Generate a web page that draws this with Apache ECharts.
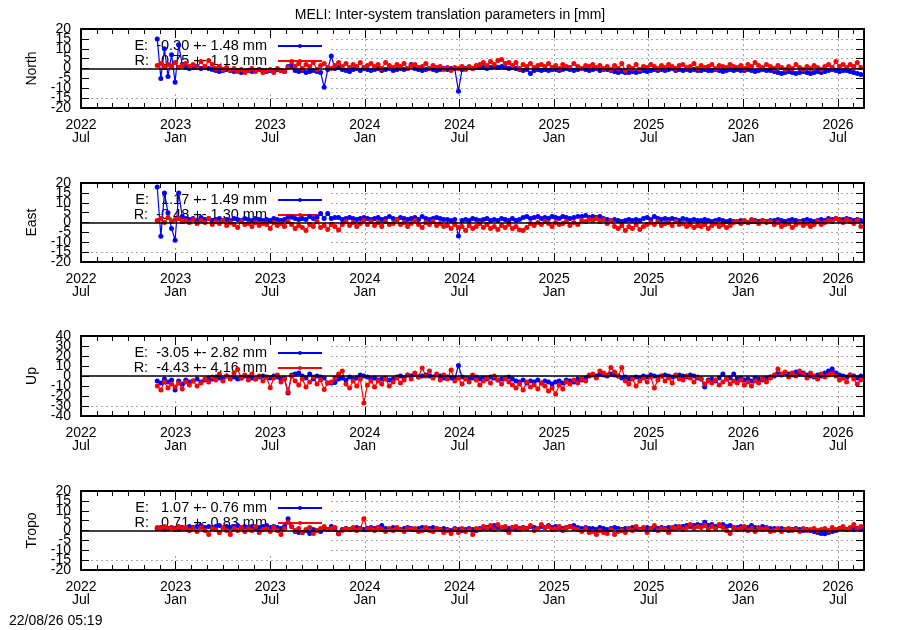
<!DOCTYPE html>
<html>
<head>
<meta charset="utf-8">
<script src="https://cdn.jsdelivr.net/npm/echarts@6/dist/echarts.min.js"></script>
<style>
  html, body { margin: 0; padding: 0; background: #fff; }
  #main { width: 900px; height: 630px; }
</style>
</head>
<body>
<div id="main"></div>
<script>
var FONT = 'Liberation Sans, Arial, sans-serif';

// one value per week, first sample 2022-11-26
var startDay = Date.UTC(2022, 10, 26);
var stepDays = 7;
var xMax = 49.65; // months after 2022-07-01 (~2026-08-20)

var panelNames = ['North', 'East', 'Up', 'Tropo'];
var yMin = [-20, -20, -40, -20];
var yMax = [20, 20, 40, 20];
var yStep = [5, 5, 10, 5];
var legendE = ['E:  -0.30 +- 1.48 mm', 'E:   1.17 +- 1.49 mm', 'E:  -3.05 +- 2.82 mm', 'E:   1.07 +- 0.76 mm'];
var legendR = ['R:   0.75 +- 1.19 mm', 'R:  -0.48 +- 1.30 mm', 'R:  -4.43 +- 4.16 mm', 'R:   0.71 +- 0.83 mm'];

var northE = [15, -5, 10, -4, 7, -7, 12, 2, 0.5, 0,
  0.5, 1, 0, 0.5, 0, -0.5, -1, -1.5, -1, -0.5,
  -1, -1.5, -1, -2, -1.5, -1, -1.5, -1, -0.5, -1,
  -1.5, -1, -1, -0.5, -1, -1.5, 1, 1, -1, -1.5,
  -1, -2, -1.5, -1, -1.5, -2, -9.5, -0.5, 6.3, 0,
  0.5, -0.5, -1, -1.5, -0.5, 0, -1, 0, -0.5, -1,
  -0.5, 0, -1, -0.5, 0, -1, -0.5, 0, -0.5, 0,
  2, 0, -0.5, -1, -0.5, 0, -0.5, -1, -0.5, 0,
  -0.5, 0, 0, -11.5, -0.5, 0, 0.5, 0, 0.5, 0.5,
  0.5, 0, 0.5, 1, 0.5, 1, 0.5, 0, 0.5, 0,
  -0.5, -1, -0.5, -2.5, -1, -0.5, -1, -0.5, -1, -0.5,
  -0.5, -1, -0.5, 0, -0.5, -1, -0.5, 0, -0.5, -1,
  -0.5, 0, -1, -0.5, -0.5, -1, -1.5, -2, -1.5, -2,
  -2, -1.5, -2, -1.5, -1, -1.5, -1, -0.5, -1, -0.5,
  -1, -0.5, 0, -1, -0.5, -1, -0.5, -1, -0.5, -1,
  -1, -0.5, -1, -1, -0.5, -1, -1.5, -1, -0.5, -1,
  -0.5, -1, -1, -0.5, -1, -1.5, -1, -0.5, -1, -1,
  -1.5, -2, -2.5, -2, -1.5, -2, -2.5, -2, -1.5, -2,
  -2.5, -2, -1.5, -2, -1.5, -1, -0.5, -1, -1.5, -1,
  -1, -1.5, -2, -2.5, -3];
var northR = [1.5, 2.5, 0.5, 2, 1, 3, 0.5, 1.5, 2.5, 1,
  2, 0.5, 3.5, 1, 4, 2, 0, 1, -0.5, 0.5,
  -1, 0, -1.5, -0.5, -2, -1, 0, -1.5, -0.5, -2,
  -1, -0.5, -2, 0, -1, -1.5, 0.5, 3.5, 1, 2.5,
  0, 2, 1, 3, -0.5, 1.5, 2.5, 0.5, 0, 1.5,
  3, 1, 2.5, 0.5, 2, 1, 3, 0.5, 1.5, 2.5,
  1, 2, 0, 3, 1.5, 0.5, 2, 1, 2.5, 0,
  1.5, 2, 0.5, 1, 2.5, 0, 1.5, 0.5, 1, -0.5,
  0.5, -1, 0.5, 0, 1, -0.5, 1, 0, 1.5, 2,
  3, 1.5, 3.5, 2, 4, 4.6, 2.5, 3, 1.5, 3,
  0, 2, 1, 2.5, 0.5, 1.5, 2, 1, 2.5, 0.5,
  1.5, 0, 2, 1, 0.5, 2.5, 1, 0, 1.5, 1,
  2, 0.5, 1.5, 0, 1, -0.5, 1.5, 0, 2.5, -1,
  1, 0, 2, -0.5, 1, 0.5, 2, 1, 0, 1.5,
  0.5, 2, 1, 0, 1.5, 2, 0.5, 1, 2.5, 0,
  1.5, 0.5, 1, 2, 0, 1.5, 1, 0.5, 2, 1,
  0.5, 1.5, 0, 2, 1, 3, 1.5, 0.5, 2, 1,
  0, 1.5, 0.5, -0.5, 1, 0, 2, 0.5, -0.5, 1,
  0, 1.5, 0.5, -0.5, 1, 2, 0.5, 3.5, 1, 2,
  0.5, 2, 1, 3, 0.5];

var eastE = [18, -7, 15, 5, -3, -9, 15, 3, 2, 1.5,
  2, 1, 2.5, 1.5, 2, 1, 1.5, 2, 1, 1.5,
  1, 2, 1.5, 1, 2, 1.5, 1, 2, 1.5, 1,
  1.5, 1, 2, 1.5, 1, 1.5, 2.6, 2.6, 2, 1.5,
  2, 1.5, 3, 2, 2.5, 4.5, 2, 4.6, 2, 2.5,
  2.5, 1.5, 2, 2.5, 2, 1.5, 2, 2.5, 2, 1.5,
  2, 2.5, 1.5, 2, 3, 2, 1.5, 2.5, 2, 1.5,
  2, 2.5, 1.5, 3, 2, 1.5, 2, 2.5, 2, 1.5,
  1.5, 1, 1.5, -6.8, 1, 1.5, 1, 2, 1.5, 1,
  1.5, 2, 1, 1.5, 1, 2, 1.5, 1, 2, 1,
  1.5, 2.5, 3, 2, 2.5, 3, 2, 2.5, 2, 3,
  2.5, 2, 3, 2.5, 2, 2.5, 3, 3, 3.5, 2.5,
  3, 2.5, 3, 2, 1.5, 1, 1.5, 1, 0.5, 1,
  1.5, 1, 1.5, 1, 2, 2.5, 1.5, 3, 2, 1.5,
  2, 1.5, 2, 1.5, 1, 2, 1.5, 1, 1.5, 1,
  1, 1.5, 1, 0.5, 1, 1.5, 1, 0.5, 1, 0.5,
  0.5, 1, 0.5, 0, 0.5, 1, 0.5, 1, 0.5, 1,
  1, 1.5, 1, 0.5, 1, 1.5, 1, 0.5, 1, 1.5,
  1, 0.5, 1, 1.5, 1, 2, 1.5, 2, 1.5, 1.5,
  2, 1.5, 1, 1.5, 1];
var eastR = [1, 2, 0, 2.5, 0.5, 1.5, 2, 0.5, 1, 0,
  1.5, -0.5, 1, 0, 2, -1, 0.5, -0.5, 1, -1.5,
  0, -1, -2.5, 0.5, -1, -0.5, -2, 0, -1.5, -0.5,
  -1, -3, 0, -1.5, -0.5, -2, 0.5, -1, -3, -1.5,
  -2.5, -4, -1, -2, 0.5, -2.5, -1.5, -3.5, -1, -2,
  -3.8, -1, 0.5, -1.5, 0, -2, -0.5, 1, -1, 0.5,
  -1.5, 0, -2, 0.5, -1, -0.5, 1.5, -1, 0, -2,
  -0.5, 1, -1, -2.5, 0, -1, 0.5, -1.5, -0.5, -2,
  -1.5, -3, -1, -2.5, -2, -4, -1.5, -3, -2, -0.5,
  -2.5, -1, -3, -2, -3.5, -1.5, -2.5, -1, -3, -2,
  -3.8, -4, -2.5, -0.5, -1.5, 0, -1, 0.5, -0.5, -2,
  0, -1, -0.5, 0.5, -1.5, 0, -1, 1, 0.5, 1.5,
  1, 2, 0.5, 1.5, -0.5, 1, -2, -3, -1.5, -4,
  -2, -3, -1, -3.5, -2, -1, 0, -1, 0.5, -1.5,
  -0.5, 0, -1.5, 0.5, -1, -0.5, -2, -1, -2.5, -1.5,
  -2, -1, -3, -1.5, -0.5, -2, -1, -2.5, -1.5, 0,
  0.5, -0.5, 1, 0, 1.5, 0.5, -0.5, 1, 0, 0.5,
  -1, 0, -2, -1, -0.5, -2.5, -1, 0, -1.5, -0.5,
  -2, -1, 0.5, -1, 0, 1, 0.5, 2, 1, 0,
  1.5, 0.5, -0.5, 1, -2];

var upE = [-5, -7, -3, -6, -4, -14, -5, -8, -4, -6,
  -5, -3, -6, -4, -2, -3, -1, -2, -3, 0,
  -2, -1, -3, -2, 0, -1, -2, -3, -1, 0,
  -1, -2, 0, -1, -3, -2, -17, 1, 2, 3,
  0, -2, 2, -3, 0, -1, -2, -7, -7, -6.5,
  -3, -2, -4, -1, -3, -2, 1, 0, -1, -3,
  -2, -4, -3, -2, -4, -3, -1, 0, -2, 1,
  0, 2, -1, 0, 1, 0, -1, 1, 0, -2,
  -1, -2, -3, 10.5, -1, -2, -3, -2, -1, -3,
  -2, -3, -1, -2, -4, -3, -2, -1, -3, -5,
  -6, -4, -7, -5, -6, -4, -7, -5, -6, -8,
  -6, -5, -7, -4, -5, -6, -3, -4, -2, 0,
  1, 0, 2, 1, 0, 2, 1, 0, -2, -1,
  -3, -2, -1, -2, 0, -1, 1, 0, -1, 0,
  1, 0, -1, 0, 1, 0, -1, 1, 0, -2,
  -3, -11, -4, -3, -5, -2, 2, -3, -2, 2,
  -3, -2, -4, -3, -5, -2, -3, -4, -2, -1,
  0, 2, 1, 3, 2, 1, 4, 2, 3, 1,
  0, -1, 1, 0, 3, 5, 7, 3, 1, 0,
  -1, 1, 0, -2, 0];
var upR = [-10, -14, -6, -12, -8, -11, -7, -13, -6, -9,
  -5, -10, -7, -3, -6, -1, -4, 2, -5, 0,
  -3, 3, 6.7, -2, 1, -4, 2, -3, 0, -5,
  -1, -11.7, -2, 1, -6, -3, -16, 0, -5, -9,
  -3, -11, -6, -1, -8, -4, -13.5, -7, -6, -2,
  2, 5, -8, -12, -5, -10, -3, -27, -9, -5,
  -11, -5, -8, -3, -10, -6, -2, -7, -4, 1,
  -3, 3, -1, 8, 0, 5, -2, 2, -4, 1,
  -3, 6, -5, -2, -8, -3, -6, 1, -4, -9,
  -5, -2, -7, 0, -4, -8, -3, -6, -9, -12,
  -8, -14, -6, -11, -9, -13, -7, -10, -15, -12,
  -18, -9, -13, -6, -8, -4, -7, -3, -5, 1,
  2, -2, 5, 3, 1, 8.4, 4, 0, 8.4, -5,
  -8, -3, -10, -5, -2, -6, -1, -12, -4, 0,
  -5, -2, -7, 1, -3, -4, 0, -2, -6, -1,
  -3, -8, -5, -7, -4, -9, -6, -3, -8, -5,
  -7, -4, -9, -6, -10, -5, -7, -3, -6, -2,
  1, 7, 2, 4, -1, 3, 0, 5, 2, -2,
  3, 0, -3, 2, -1, 1, 3, 0, -4, -2,
  -6, 1, -3, -8, -4];

var tropoE = [1, 1.5, 0.5, 1, 1.5, 1, 0.5, 1.5, 1, 2,
  1.5, 2, 2.5, 1.5, 2, 1.5, 2, 2.5, 1.5, 2,
  1.5, 2, 2.5, 1.5, 2, 1.5, 2, 1, 1.5, 2,
  2.5, 1.5, 2, 1.5, 1, 2, 5.9, 2, -0.5, -1,
  -1, 0, -1.5, 0.5, 0, -0.5, 1, 0.5, 2, 0.5,
  -1.7, 0.5, 1, 0.5, 1, 1.5, 1, 0.5, 1, 1.5,
  1, 1.5, 2.5, 1, 0.5, 1.5, 1, 0.5, 1, 1.5,
  1, 0.5, 1, 1.5, 0.5, 1, 1.5, 1, 0.5, 1,
  0.5, 0, 1, 0.5, 0, 0.5, 1, 0.5, 0, 1,
  1, 1.5, 1, 2.5, 1.5, 1, 0.5, 1, 1.5, 0.5,
  1, 1.5, 1, 2, 1.5, 1, 2, 1.5, 2.5, 1.5,
  2, 1.5, 1, 1.5, 2, 2.5, 1.5, 1, 1.5, 1,
  1, 0.5, 1.5, 1, 0.5, 1, 1.5, 1, 0.5, 1,
  1, 1.5, 1, 0.5, 1, 1.5, 1, 0.5, 1, 1.5,
  1, 1.5, 1, 2, 1.5, 2, 2.5, 2, 2.5, 3,
  2.5, 4.2, 2.5, 3, 2, 2.5, 3, 2, 2.5, 1.5,
  1.5, 2, 1, 1.5, 2.5, 1.5, 1, 2, 1.5, 1,
  1, 0.5, 1, 0.5, 0, 0.5, 1, 0.5, 0, 0.5,
  0, -0.5, -1, -1.5, -1.7, -1, -0.5, 0, 1, 1,
  0.5, 1, 0.5, 1, 0.5];
var tropoR = [1.5, 1, 2, 1, 1.5, 0.5, 2, 1, 1.5, 0,
  1, -0.5, 1.5, 0, -2, 1, 0.5, -1, 1.5, 0,
  -2, 1, 0, 1.5, -0.5, 1, 0, 2, -1, 0.5,
  1, -0.5, 1.5, 0, -2, 1, 4.2, 2, 0, 1,
  -1, 0.5, 1.5, -1.5, 0, 1, 2, 0.5, 1, 1.5,
  -1.7, 0, 1, 0.5, 1.5, 0, 1, 5.9, 0.5, 1,
  0, 1.5, 0.5, -0.5, 1, 0, 1.5, 0.5, -0.5, 1,
  0.5, 1, -0.5, 0, 1.5, 0, -0.5, 1, 0.5, -1,
  0, -1.5, 0.5, -1, 1, -0.5, 0.5, -2, 1, 0.5,
  2, 1, 2.5, 0.5, 3, 1.5, 2, -1, 1.5, 2,
  0.5, 1.5, 1, 2.5, 0, 1, 3, 1.5, 2, 0.5,
  1, 2, 0, 1.5, 2, 1, 0.5, -0.5, 1, -1,
  -0.5, -2, 0, -1, -1.5, 0.5, -2, -0.5, 0, -1,
  1, 0, 2, 0.5, 1.5, -1, 1, 2.5, 0, 1,
  0.5, -1, 1.5, 1, 2, 0.5, 1.5, 3, 1, 2,
  1.5, 2.5, 0.5, 2, 1, 3, 1.5, 0, -1.5, 1.5,
  0.5, 1, 2, 0, 1, -0.5, 1.5, 0.5, 1, -0.5,
  0, 1, -0.5, 0.5, 1, 0, 0.5, -0.5, 1, 0,
  0.5, 1, 0, 0.5, 1, 0, 1.5, 0.5, 1, 2,
  0.5, 1.5, 3, 1, 2];

var seriesE = [northE, eastE, upE, tropoE];
var seriesR = [northR, eastR, upR, tropoR];

// fractional months since 2022-07-01
function toMonths(t) {
  var d = new Date(t);
  var y = d.getUTCFullYear(), m = d.getUTCMonth(), day = d.getUTCDate();
  var dim = new Date(Date.UTC(y, m + 1, 0)).getUTCDate();
  return (y - 2022) * 12 + (m - 6) + (day - 1) / dim;
}
var xMonths = northE.map(function (v, i) { return toMonths(startDay + i * stepDays * 86400000); });

function xLabel(v) {
  if (Math.abs(v % 6) > 1e-6) return '';
  var year = 2022 + Math.floor((v + 6) / 12);
  return year + '\n' + (v % 12 === 0 ? 'Jul' : 'Jan');
}

var panelTop = [29, 183, 336, 491];
var panelHeight = [79, 79, 80, 79];
var axisLineStyle = { color: '#000', width: 2 };
var gridLineStyle = { color: '#a8a8a8', width: 1, type: [2, 3] };
var txt = { fontFamily: FONT, fontSize: 14, color: '#000' };
var yLabelStyle = { show: true, margin: 10, hideOverlap: false, fontFamily: FONT, fontSize: 14, color: '#000' };

var grids = [], xAxes = [], yAxes = [], series = [], legends = [], shapes = [];

panelNames.forEach(function (name, k) {
  var top = panelTop[k];
  grids.push({ left: 81, width: 783, top: top, height: panelHeight[k] });

  // bottom: labels, ticks, vertical grid lines
  xAxes.push({
    gridIndex: k, type: 'value', position: 'bottom', min: 0, max: xMax, interval: 6, z: 0,
    axisLine: { show: true, onZero: false, lineStyle: axisLineStyle },
    axisTick: { show: true, inside: true, length: 9, lineStyle: { color: '#000', width: 1 } },
    minorTick: { show: true, splitNumber: 6, length: 5, lineStyle: { color: '#000', width: 1 } },
    axisLabel: { show: true, formatter: xLabel, margin: 11, lineHeight: 13, fontFamily: FONT, fontSize: 14, color: '#000', showMaxLabel: false },
    splitLine: { show: true, showMinLine: false, showMaxLine: false, lineStyle: gridLineStyle }
  });
  // top mirror
  xAxes.push({
    gridIndex: k, type: 'value', position: 'top', min: 0, max: xMax, interval: 6, z: 2,
    axisLine: { show: true, onZero: false, lineStyle: axisLineStyle },
    axisTick: { show: true, inside: true, length: 9, lineStyle: { color: '#000', width: 1 } },
    minorTick: { show: true, splitNumber: 6, length: 5, lineStyle: { color: '#000', width: 1 } },
    axisLabel: { show: false },
    splitLine: { show: false }
  });
  // left: inner labels + name
  yAxes.push({
    gridIndex: k, type: 'value', position: 'left', min: yMin[k], max: yMax[k], interval: yStep[k], z: 2,
    name: name, nameLocation: 'middle', nameGap: 42, nameRotate: 90,
    nameTextStyle: txt,
    axisLine: { show: true, onZero: false, lineStyle: axisLineStyle },
    axisTick: { show: true, inside: true, length: 8, lineStyle: { color: '#000', width: 1 } },
    axisLabel: Object.assign({ showMinLabel: false, showMaxLabel: false }, yLabelStyle),
    splitLine: { show: false }
  });
  // right mirror + horizontal grid lines
  yAxes.push({
    gridIndex: k, type: 'value', position: 'right', min: yMin[k], max: yMax[k], interval: yStep[k], z: 0,
    axisLine: { show: true, onZero: false, lineStyle: axisLineStyle },
    axisTick: { show: true, inside: true, length: 8, lineStyle: { color: '#000', width: 1 } },
    axisLabel: { show: false },
    splitLine: { show: true, showMinLine: false, showMaxLine: false, lineStyle: gridLineStyle }
  });
  // left: end labels only (top and bottom of the range)
  yAxes.push({
    gridIndex: k, type: 'value', position: 'left', min: yMin[k], max: yMax[k], interval: yMax[k] - yMin[k], z: 2,
    axisLine: { show: false, onZero: false }, axisTick: { show: false },
    axisLabel: Object.assign({ showMinLabel: true, showMaxLabel: true }, yLabelStyle),
    splitLine: { show: false }
  });

  series.push({
    type: 'line', name: legendE[k], xAxisIndex: 2 * k, yAxisIndex: 3 * k, z: 3,
    data: seriesE[k].map(function (v, i) { return [xMonths[i], v]; }),
    symbol: 'circle', symbolSize: 5, showSymbol: true,
    lineStyle: { color: '#0000ff', width: 1.2 }, itemStyle: { color: '#0000ff' },
    silent: true
  });
  series.push({
    type: 'line', name: legendR[k], xAxisIndex: 2 * k, yAxisIndex: 3 * k, z: 3,
    data: seriesR[k].map(function (v, i) { return [xMonths[i], v]; }),
    symbol: 'circle', symbolSize: 5, showSymbol: true,
    lineStyle: { color: '#ff0000', width: 1.2 }, itemStyle: { color: '#ff0000' },
    silent: true,
    markLine: {
      silent: true, symbol: ['none', 'none'], label: { show: false },
      lineStyle: { color: '#000', width: 1.5, type: 'solid' },
      data: [{ yAxis: 0 }]
    }
  });

  legends.push({
    data: [legendE[k], legendR[k]],
    orient: 'vertical', align: 'right', right: 577, top: top + 9.5,
    padding: 0, itemGap: 0, itemWidth: 44, itemHeight: 5, selectedMode: false, z: 2,
    textStyle: { fontFamily: FONT, fontSize: 14.5, color: '#000', lineHeight: 15, padding: [0, 6, 0, 0] }
  });

  // opaque key box hides the grid lines behind the legend
  shapes.push({
    type: 'rect', silent: true, z: 1,
    shape: { x: 82, y: top + 1, width: 247, height: 63 },
    style: { fill: '#fff' }
  });
});

var chart = echarts.init(document.getElementById('main'), null, { renderer: 'canvas' });
chart.setOption({
  animation: false,
  backgroundColor: '#fff',
  title: [
    { text: 'MELI: Inter-system translation parameters in [mm]', left: 'center', top: 8, padding: 0,
      textStyle: { fontFamily: FONT, fontSize: 14, fontWeight: 'normal', color: '#000' } },
    { text: '22/08/26 05:19', left: 9, top: 614, padding: 0,
      textStyle: { fontFamily: FONT, fontSize: 14, fontWeight: 'normal', color: '#000' } }
  ],
  grid: grids,
  xAxis: xAxes,
  yAxis: yAxes,
  legend: legends,
  graphic: { elements: shapes },
  series: series
});
</script>
</body>
</html>
